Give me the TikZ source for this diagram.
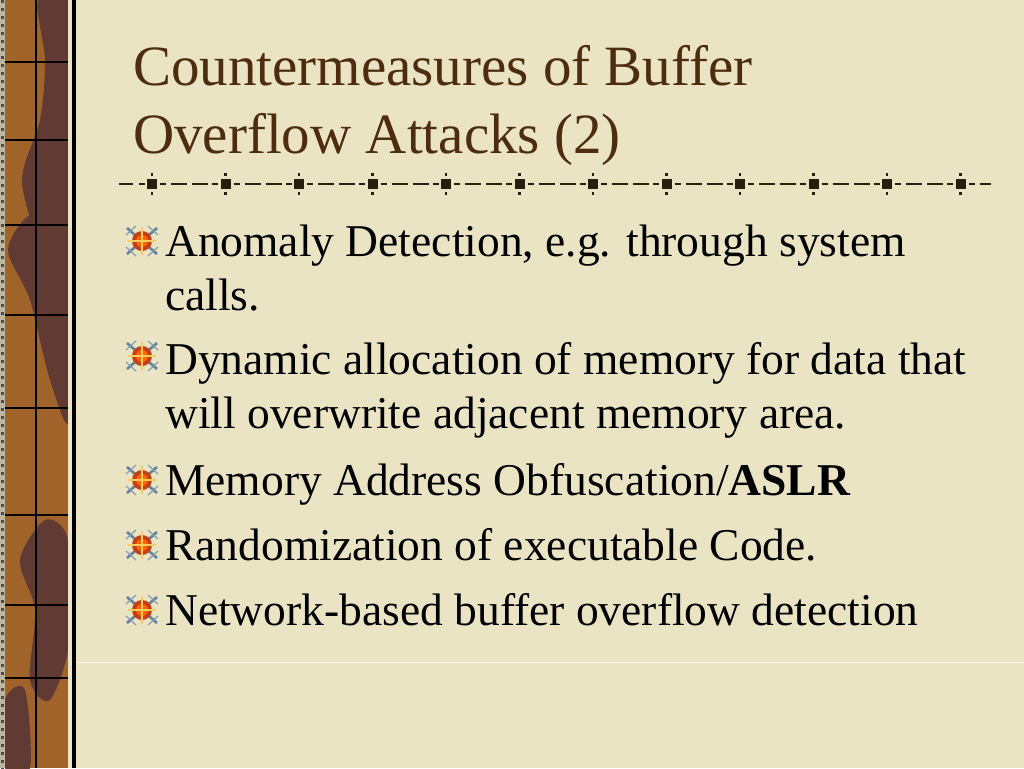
\documentclass[tikz,border=0pt]{standalone}
\usepackage{fontspec}
\setmainfont{Liberation Serif}
\definecolor{paper}{RGB}{234,228,196}
\definecolor{titlebrown}{RGB}{78,44,14}
\definecolor{stripbrown}{RGB}{160,100,42}
\definecolor{stripdark}{RGB}{98,58,52}
\definecolor{rulecol}{RGB}{40,30,15}
\definecolor{starred}{RGB}{196,62,24}
\definecolor{stargold}{RGB}{246,206,96}
\definecolor{starblue}{RGB}{100,130,155}
\tikzset{
  titletext/.style={anchor=base west, inner sep=0pt, text=titlebrown, font=\fontsize{57}{68}\selectfont},
  itemtext/.style={anchor=base west, inner sep=0pt, text=black, align=left, font=\fontsize{45.5}{54}\selectfont},
  gridline/.style={black, line width=1.2pt},
  ruledash/.style={rulecol, line width=2.4pt},
  bulletstar/.pic={
    \draw[starblue, line width=2.6pt] (-15,-13) -- (15,13) (-15,13) -- (15,-13);
    \draw[starblue!80!white, line width=1.2pt] (-16,-6) -- (-6,-15) (16,-6) -- (6,-15) (-16,6) -- (-6,15) (16,6) -- (6,15);
    \fill[starred] (0,0) circle (10pt);
    \fill[orange!80!red] (0,0) circle (6pt);
    \draw[stargold, line width=2.8pt] (-14,0) -- (14,0) (0,-14) -- (0,14);
  }
}
\begin{document}
\begin{tikzpicture}[x=1pt, y=-1pt]
  \useasboundingbox (0,0) rectangle (1024,768);
  % background
  \fill[paper] (0,0) rectangle (1024,768);
  \draw[white, opacity=0.7, line width=1pt] (76,662) -- (1024,662);
  % left strip
  \fill[stripbrown] (0,0) rectangle (73,768);
  \fill[stripdark] plot[smooth cycle] coordinates {(38,0) (70,0) (70,330) (55,300) (40,250) (22,180) (40,120) (45,60)};
  \fill[stripdark] plot[smooth cycle] coordinates {(8,250) (30,215) (55,230) (70,250) (70,420) (50,380) (30,300)};
  \fill[stripdark] plot[smooth cycle] coordinates {(20,560) (45,520) (68,540) (70,640) (50,700) (30,680) (35,610)};
  \fill[stripdark] plot[smooth cycle] coordinates {(5,700) (25,690) (30,768) (5,768)};
  \fill[paper!80!black] (0,0) rectangle (5,768);
  \foreach \t in {0,8,...,768}
    \fill[black!70] (1,\t) rectangle (4,\t+3);
  \fill[paper] (68,0) rectangle (72,768);
  \fill[black] (72,0) rectangle (76,768);
  \draw[gridline] (36,0) -- (36,768);
  \foreach \g in {62,140,225,315,408,515,605,678}
    \draw[gridline] (5,\g) -- (68,\g);
  % title
  \node[titletext] (title1) at (133,85) {Countermeasures of Buffer};
  \node[titletext] (title2) at (133,153) {Overflow Attacks (2)};
  % separator
  \draw[ruledash] (119,184) -- (133,184) (139,184) -- (145,184);
  \foreach \c in {152,225.5,...,961}{
    \fill[rulecol] (\c-5,179) rectangle (\c+5,189);
    \fill[rulecol] (\c-1.2,173) rectangle (\c+1.2,176);
    \fill[rulecol] (\c-1.2,192) rectangle (\c+1.2,195);
  }
  \foreach \c in {152,225.5,...,888}
    \draw[ruledash] (\c+8,184) -- (\c+14,184) (\c+19,184) -- (\c+35,184)
                    (\c+40,184) -- (\c+56,184) (\c+60,184) -- (\c+66,184);
  \draw[ruledash] (969,184) -- (975,184) (980,184) -- (991,184);
  % items (base anchor sits on the last line)
  \node[itemtext] (item1) at (165,310) {Anomaly Detection, e.g. through system\\calls.};
  \node[itemtext] (item2) at (165,428) {Dynamic allocation of memory for data that\\will overwrite adjacent memory area.};
  \node[itemtext] (item3) at (165,495) {Memory Address Obfuscation/\textbf{ASLR}};
  \node[itemtext] (item4) at (165,560) {Randomization of executable Code.};
  \node[itemtext] (item5) at (165,625) {Network-based buffer overflow detection};
  % bullets
  \foreach \b in {256,371,495,560,625}
    \pic at (142,\b-15) {bulletstar};
\end{tikzpicture}
\end{document}
